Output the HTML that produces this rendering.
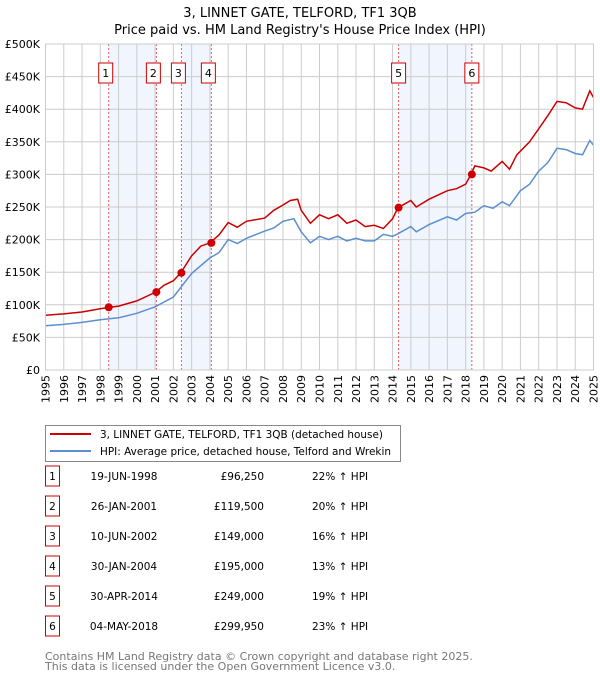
<!DOCTYPE html>
<html><head><meta charset="utf-8"><style>
body{margin:0;background:#fff;font-family:"DejaVu Sans","Liberation Sans",sans-serif;}
svg text{font-family:"DejaVu Sans","Liberation Sans",sans-serif;}
</style></head><body>
<svg id="c" width="600" height="680" xmlns="http://www.w3.org/2000/svg">
<text x="300" y="17" text-anchor="middle" font-size="13">3, LINNET GATE, TELFORD, TF1 3QB</text>
<text x="300" y="34" text-anchor="middle" font-size="13">Price paid vs. HM Land Registry's House Price Index (HPI)</text>
<g id="plot"></g>
<g>
<rect x="45.5" y="425.5" width="355" height="36" fill="#fff" stroke="#888"/>
<line x1="50" y1="434" x2="91" y2="434" stroke="#cc0000" stroke-width="2"/>
<text x="100" y="438" font-size="10.5" textLength="283" lengthAdjust="spacingAndGlyphs">3, LINNET GATE, TELFORD, TF1 3QB (detached house)</text>
<line x1="50" y1="451" x2="91" y2="451" stroke="#5b8fd0" stroke-width="2"/>
<text x="100" y="455" font-size="10.5" textLength="291" lengthAdjust="spacingAndGlyphs">HPI: Average price, detached house, Telford and Wrekin</text>
</g>
<g id="table" font-size="10.5"></g>
<text x="45" y="660" font-size="11" fill="#777">Contains HM Land Registry data © Crown copyright and database right 2025.</text>
<text x="45" y="670" font-size="11" fill="#777">This data is licensed under the Open Government Licence v3.0.</text>
</svg>
<script>
const hpiYears=[1995,1996,1997,1998,1999,2000,2001,2002,2002.5,2003,2004,2004.5,2005,2005.5,2006,2007,2007.5,2008,2008.6,2009,2009.5,2010,2010.5,2011,2011.5,2012,2012.5,2013,2013.5,2014,2014.3,2015,2015.3,2016,2017,2017.5,2018,2018.5,2019,2019.5,2020,2020.4,2021,2021.5,2022,2022.5,2023,2023.5,2024,2024.4,2024.8,2025];
const hpiValues=[68,70,73,77,80,87,97,112,130,148,172,180,200,194,202,213,218,228,232,212,195,205,200,205,198,202,198,198,208,205,209,220,212,223,235,230,240,242,252,248,258,252,275,285,305,318,340,338,332,330,352,345];
const priceYears=[1995,1996,1997,1998,1998.5,1999,2000,2001,2001.5,2002,2002.4,2003,2003.5,2004,2004.5,2005,2005.5,2006,2007,2007.5,2008,2008.4,2008.8,2009,2009.5,2010,2010.5,2011,2011.5,2012,2012.5,2013,2013.5,2014,2014.3,2015,2015.3,2016,2017,2017.5,2018,2018.3,2018.5,2019,2019.4,2020,2020.4,2020.8,2021.5,2022,2022.5,2023,2023.5,2024,2024.4,2024.8,2025];
const priceValues=[84,86,89,94,96,98,106,119,130,137,149,175,190,195,207,226,219,228,233,245,253,260,262,245,225,238,232,238,225,230,220,222,217,232,249,260,250,262,275,278,285,300,313,310,305,320,308,330,350,370,390,412,410,402,400,428,418];
const saleLabels=["1","2","3","4","5","6"];
const saleYears=[1998.46,2001.07,2002.44,2004.08,2014.33,2018.34];
const salePrices=[96250,119500,149000,195000,249000,299950];
const saleDates=["19-JUN-1998","26-JAN-2001","10-JUN-2002","30-JAN-2004","30-APR-2014","04-MAY-2018"];
const salePriceText=["£96,250","£119,500","£149,000","£195,000","£249,000","£299,950"];
const saleHpi=["22% ↑ HPI","20% ↑ HPI","16% ↑ HPI","13% ↑ HPI","19% ↑ HPI","23% ↑ HPI"];
const yTicks=[0,50,100,150,200,250,300,350,400,450,500];
const yTickLabels=["£0","£50K","£100K","£150K","£200K","£250K","£300K","£350K","£400K","£450K","£500K"];
const xTicks=[1995,1996,1997,1998,1999,2000,2001,2002,2003,2004,2005,2006,2007,2008,2009,2010,2011,2012,2013,2014,2015,2016,2017,2018,2019,2020,2021,2022,2023,2024,2025];

const X0=45.5,X1=593.5,Y0=370,Y1=44;
const xs=y=>X0+(y-1995)/30*(X1-X0);
const ys=v=>Y0-v/500*(Y0-Y1);
const NS="http://www.w3.org/2000/svg";
function mk(tag,attrs,parent){const e=document.createElementNS(NS,tag);for(const k in attrs)e.setAttribute(k,attrs[k]);parent.appendChild(e);return e;}
const P=document.getElementById('plot');
for(let i=0;i<6;i+=2){
  const r=mk('rect',{x:xs(saleYears[i]),y:Y1,width:xs(saleYears[i+1])-xs(saleYears[i]),height:Y0-Y1,fill:'#eef3fc',opacity:0.8},P);
  
  
}
yTicks.forEach((t,i)=>{
  const l=mk('line',{x1:X0,x2:X1,y1:ys(t),y2:ys(t),stroke:'#cccccc'},P);
  
  
  const tx=mk('text',{x:40,y:ys(t)+4,'text-anchor':'end','font-size':11},P);
  tx.textContent=yTickLabels[i];
  
  
});
xTicks.forEach(t=>{
  const l=mk('line',{x1:xs(t),x2:xs(t),y1:Y1,y2:Y0,stroke:'#cccccc'},P);
  
  
  const tx=mk('text',{x:0,y:0,'text-anchor':'end','font-size':11,transform:`translate(${xs(t)+4},375) rotate(-90)`},P);
  tx.textContent=t;
  
  
});
saleYears.forEach(y=>{
  const l=mk('line',{x1:xs(y),x2:xs(y),y1:Y1,y2:Y0,stroke:'#e06060','stroke-dasharray':'2,2'},P);
  
  
});
function path(xa,va,color,name){
  const d=xa.map((x,i)=>(i?'L':'M')+xs(x).toFixed(1)+','+ys(va[i]).toFixed(1)).join('');
  const p=mk('path',{d:d,fill:'none',stroke:color,'stroke-width':1.5},P);
  
  
}
path(hpiYears,hpiValues,'#5b8fd0','hpi-line');
path(priceYears,priceValues,'#cc0000','price-paid-line');
saleYears.forEach((y,i)=>{
  const c=mk('circle',{cx:xs(y),cy:ys(salePrices[i]/1000),r:4,fill:'#cc0000'},P);
  
  
  const bx=xs(y)-(i<4?3:0);
  const r=mk('rect',{x:bx-7,y:63,width:14,height:20,fill:'#fff',stroke:'#cc0000'},P);
  
  
  const t=mk('text',{x:bx,y:77,'text-anchor':'middle','font-size':11},P);
  t.textContent=saleLabels[i];
  
  
});
mk('rect',{x:X0,y:Y1,width:X1-X0,height:Y0-Y1,fill:'none',stroke:'#cccccc'},P);
const T=document.getElementById('table');
saleYears.forEach((y,i)=>{
  const ty=483+i*30;
  const g=mk('g',{},T);
  
  
  mk('rect',{x:45.5,y:ty-17,width:14,height:20,fill:'#fff',stroke:'#cc0000'},g);
  const a=mk('text',{x:52.5,y:ty-3,'text-anchor':'middle'},g);a.textContent=saleLabels[i];
  const b=mk('text',{x:124,y:ty-3,'text-anchor':'middle'},g);b.textContent=saleDates[i];
  const c=mk('text',{x:264,y:ty-3,'text-anchor':'end'},g);c.textContent=salePriceText[i];
  const d=mk('text',{x:312,y:ty-3},g);d.textContent=saleHpi[i];
});
</script>
</body></html>
